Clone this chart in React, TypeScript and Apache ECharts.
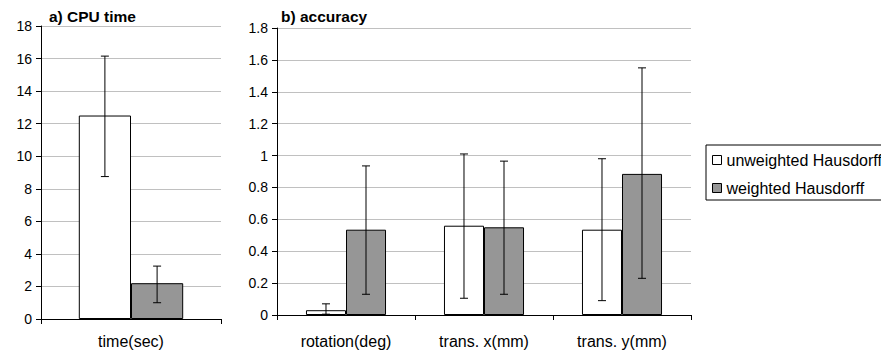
import React, { useEffect, useRef } from "react";
import * as echarts from "echarts";

const seriesNames = ["unweighted Hausdorff", "weighted Hausdorff"];

const cpuCategories = ["time(sec)"];
const cpuUnweighted = [12.5];
const cpuUnweightedLow = [8.75];
const cpuUnweightedHigh = [16.15];
const cpuWeighted = [2.2];
const cpuWeightedLow = [1.0];
const cpuWeightedHigh = [3.25];

const accCategories = ["rotation(deg)", "trans. x(mm)", "trans. y(mm)"];
const accUnweighted = [0.03, 0.56, 0.535];
const accUnweightedLow = [0.005, 0.105, 0.09];
const accUnweightedHigh = [0.07, 1.01, 0.98];
const accWeighted = [0.535, 0.55, 0.885];
const accWeightedLow = [0.13, 0.13, 0.23];
const accWeightedHigh = [0.935, 0.965, 1.55];

const FONT = "'Liberation Sans', Arial, sans-serif";
const GAP = 0.42;

function errorSeries(name: string, xAxisIndex: number, lows: number[], highs: number[], side: number) {
  return {
    type: "custom",
    name,
    xAxisIndex,
    yAxisIndex: xAxisIndex,
    silent: true,
    z: 10,
    data: lows.map((l, i) => [i, l, highs[i]]),
    encode: { x: 0, y: [1, 2] },
    renderItem: (params: any, api: any) => {
      const idx = api.value(0);
      const lo = api.coord([idx, api.value(1)]);
      const hi = api.coord([idx, api.value(2)]);
      const catW = api.size([1, 0])[0];
      const barW = (catW * (1 - GAP)) / 2;
      const x = lo[0] + side * barW / 2;
      const cap = 4;
      const style = { stroke: "#000", lineWidth: 1, fill: null };
      return {
        type: "group",
        children: [
          { type: "line", shape: { x1: x, y1: lo[1], x2: x, y2: hi[1] }, style },
          { type: "line", shape: { x1: x - cap, y1: hi[1], x2: x + cap, y2: hi[1] }, style },
          { type: "line", shape: { x1: x - cap, y1: lo[1], x2: x + cap, y2: lo[1] }, style },
        ],
      };
    },
  };
}

function barSeries(name: string, idx: number, data: number[], color: string) {
  return {
    type: "bar",
    name,
    xAxisIndex: idx,
    yAxisIndex: idx,
    data,
    barGap: "0%",
    barCategoryGap: GAP * 100 + "%",
    itemStyle: { color, borderColor: "#000", borderWidth: 1 },
  };
}

const axisCommonY = {
  type: "value",
  axisLine: { show: true, lineStyle: { color: "#000", width: 1 } },
  axisTick: { show: true, length: 5, lineStyle: { color: "#000" } },
  splitLine: { show: true, lineStyle: { color: "#c0c0c0", width: 1 } },
  axisLabel: { color: "#000", fontFamily: FONT, fontSize: 14, margin: 9 },
};

export default function App() {
  const ref = useRef<HTMLDivElement>(null);
  useEffect(() => {
    document.body.style.margin = "0";
    const chart = echarts.init(ref.current!, null, { renderer: "svg" });
    chart.setOption({
      animation: false,
      backgroundColor: "#fff",
      textStyle: { fontFamily: FONT },
      title: [
        { text: "a) CPU time", left: 44, top: 3, textStyle: { fontFamily: FONT, fontSize: 15.5, fontWeight: "bold", color: "#000" } },
        { text: "b) accuracy", left: 276, top: 3, textStyle: { fontFamily: FONT, fontSize: 15.5, fontWeight: "bold", color: "#000" } },
      ],
      legend: {
        data: seriesNames,
        orient: "vertical",
        left: 706,
        top: 145,
        padding: [6, 6, 3, 6],
        itemGap: 10,
        itemWidth: 9,
        itemHeight: 9,
        itemStyle: { borderColor: "#000", borderWidth: 1 },
        icon: "rect",
        borderColor: "#000",
        borderWidth: 1,
        textStyle: { fontFamily: FONT, fontSize: 16, color: "#000", lineHeight: 18 },
      },
      grid: [
        { left: 41, right: 881 - 221, top: 26, bottom: 358 - 319 },
        { left: 277, right: 881 - 691, top: 28, bottom: 358 - 315 },
      ],
      xAxis: [
        {
          type: "category",
          gridIndex: 0,
          data: cpuCategories,
          axisLine: { lineStyle: { color: "#000" } },
          axisTick: { show: true, length: 5, alignWithLabel: false, lineStyle: { color: "#000" } },
          axisLabel: { color: "#000", fontFamily: FONT, fontSize: 16, margin: 14 },
        },
        {
          type: "category",
          gridIndex: 1,
          data: accCategories,
          axisLine: { lineStyle: { color: "#000" } },
          axisTick: { show: true, length: 5, alignWithLabel: false, lineStyle: { color: "#000" } },
          axisLabel: { color: "#000", fontFamily: FONT, fontSize: 16, margin: 18 },
        },
      ],
      yAxis: [
        { ...axisCommonY, gridIndex: 0, min: 0, max: 18, interval: 2 },
        { ...axisCommonY, gridIndex: 1, min: 0, max: 1.8, interval: 0.2 },
      ],
      series: [
        barSeries(seriesNames[0], 0, cpuUnweighted, "#ffffff"),
        barSeries(seriesNames[1], 0, cpuWeighted, "#969696"),
        barSeries(seriesNames[0], 1, accUnweighted, "#ffffff"),
        barSeries(seriesNames[1], 1, accWeighted, "#969696"),
        errorSeries("errA0", 0, cpuUnweightedLow, cpuUnweightedHigh, -1),
        errorSeries("errA1", 0, cpuWeightedLow, cpuWeightedHigh, 1),
        errorSeries("errB0", 1, accUnweightedLow, accUnweightedHigh, -1),
        errorSeries("errB1", 1, accWeightedLow, accWeightedHigh, 1),
      ],
    });
    return () => chart.dispose();
  }, []);
  return <div ref={ref} style={{ width: 881, height: 358 }} />;
}
